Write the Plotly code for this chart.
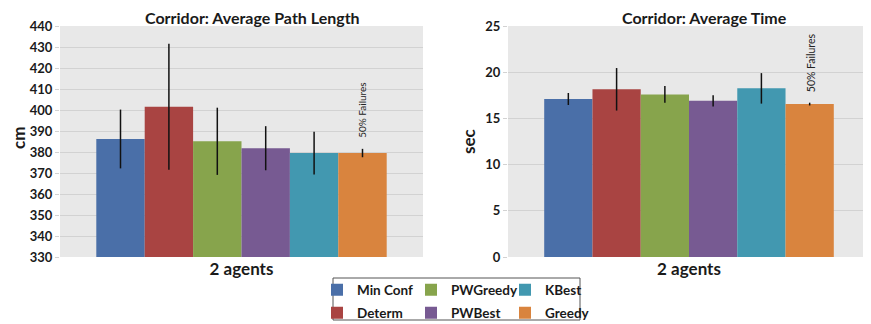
import plotly.graph_objects as go

category = ["2 agents"]
methods = ["Min Conf", "Determ", "PWGreedy", "PWBest", "KBest", "Greedy"]
legend_row = ["legend", "legend2", "legend", "legend2", "legend", "legend2"]
colors = ["#4a6fa8", "#a94442", "#87a44c", "#775a92", "#4298b0", "#d9843e"]

path_len = [386.2, 401.5, 385.1, 381.8, 379.5, 379.5]
path_err = [14.0, 30.0, 16.0, 10.5, 10.2, 2.0]

avg_time = [17.1, 18.15, 17.6, 16.9, 18.25, 16.55]
time_err = [0.65, 2.3, 0.9, 0.6, 1.65, 0.15]

note = "50% Failures"
FONT = "Lato"

W, H = 871, 324
OFF = 8  # page body margin of the browser


def px(x):
    return (x - OFF) / W


def py(y):
    return 1 - (y - OFF) / H


fig = go.Figure()
for i, m in enumerate(methods):
    fig.add_trace(go.Bar(
        x=category, y=[path_len[i]], name=m, legendgroup=m, legend=legend_row[i],
        marker=dict(color=colors[i], line=dict(width=0)),
        error_y=dict(type="data", array=[path_err[i]], color="#111111", thickness=1.5, width=0),
        xaxis="x", yaxis="y", showlegend=True))
for i, m in enumerate(methods):
    fig.add_trace(go.Bar(
        x=category, y=[avg_time[i]], name=m, legendgroup=m, legend=legend_row[i],
        marker=dict(color=colors[i], line=dict(width=0)),
        error_y=dict(type="data", array=[time_err[i]], color="#111111", thickness=1.5, width=0),
        xaxis="x2", yaxis="y2", showlegend=False))

tickfont = dict(family=FONT, size=13, color="#1a1a1a", weight="bold")
catfont = dict(family=FONT, size=17, color="#1a1a1a", weight="bold")
ycommon = dict(showgrid=True, gridcolor="#d2d2d2", gridwidth=1, zeroline=False,
               ticks="outside", ticklen=4, tickcolor="#d2d2d2", tickfont=tickfont,
               showline=False, fixedrange=True, automargin=False)
xcommon = dict(showgrid=False, zeroline=False, showline=False, ticks="",
               tickfont=catfont, fixedrange=True, automargin=False)
legfont = dict(family=FONT, size=13.5, color="#1a1a1a", weight="bold")
legcommon = dict(orientation="h", xanchor="left", yanchor="middle",
                 borderwidth=0, bgcolor="rgba(0,0,0,0)", font=legfont,
                 entrywidth=49, entrywidthmode="pixels", traceorder="normal",
                 itemclick=False, itemdoubleclick=False)

fig.update_layout(
    width=W, height=H,
    margin=dict(l=0, r=0, t=0, b=0),
    paper_bgcolor="white", plot_bgcolor="#e8e8e8",
    barmode="group", bargap=0.2, bargroupgap=0,
    font=dict(family=FONT),
    xaxis=dict(domain=[px(60), px(423)], anchor="y", **xcommon),
    yaxis=dict(domain=[py(257), py(26)], anchor="x", range=[330, 440], dtick=10, **ycommon),
    xaxis2=dict(domain=[px(508), px(870)], anchor="y2", **xcommon),
    yaxis2=dict(domain=[py(257), py(26)], anchor="x2", range=[0, 25], dtick=5, **ycommon),
    legend=dict(x=px(317), y=py(290), **legcommon),
    legend2=dict(x=px(317), y=py(313), **legcommon),
    showlegend=True,
)

fig.add_shape(type="rect", xref="paper", yref="paper", x0=px(333), x1=px(580), y0=py(320), y1=py(278),
              line=dict(color="#555555", width=1), fillcolor="rgba(0,0,0,0)", layer="below")

tfont = dict(family=FONT, size=16, color="#1a1a1a", weight="bold")
afont = dict(family=FONT, size=17, color="#1a1a1a", weight="bold")
ann = []
ann.append(dict(text="Corridor: Average Path Length", x=px(253), y=py(17.5), xref="paper", yref="paper",
                xanchor="center", yanchor="middle", showarrow=False, font=tfont))
ann.append(dict(text="Corridor: Average Time", x=px(704), y=py(17.5), xref="paper", yref="paper",
                xanchor="center", yanchor="middle", showarrow=False, font=tfont))
ann.append(dict(text="cm", x=px(18), y=py(138), xref="paper", yref="paper", textangle=-90,
                xanchor="center", yanchor="middle", showarrow=False, font=afont))
ann.append(dict(text="sec", x=px(468), y=py(141), xref="paper", yref="paper", textangle=-90,
                xanchor="center", yanchor="middle", showarrow=False, font=afont))
ann.append(dict(text=note, x=category[0], y=path_len[5] + path_err[5], xref="x", yref="y",
                xshift=121, yshift=9, xanchor="center", yanchor="bottom", textangle=-90,
                showarrow=False, font=dict(family=FONT, size=10, color="#222222")))
ann.append(dict(text=note, x=category[0], y=avg_time[5] + time_err[5], xref="x2", yref="y2",
                xshift=122, yshift=8, xanchor="center", yanchor="bottom", textangle=-90,
                showarrow=False, font=dict(family=FONT, size=10.5, color="#222222")))
fig.update_layout(annotations=ann)

fig.write_html("out.html")
